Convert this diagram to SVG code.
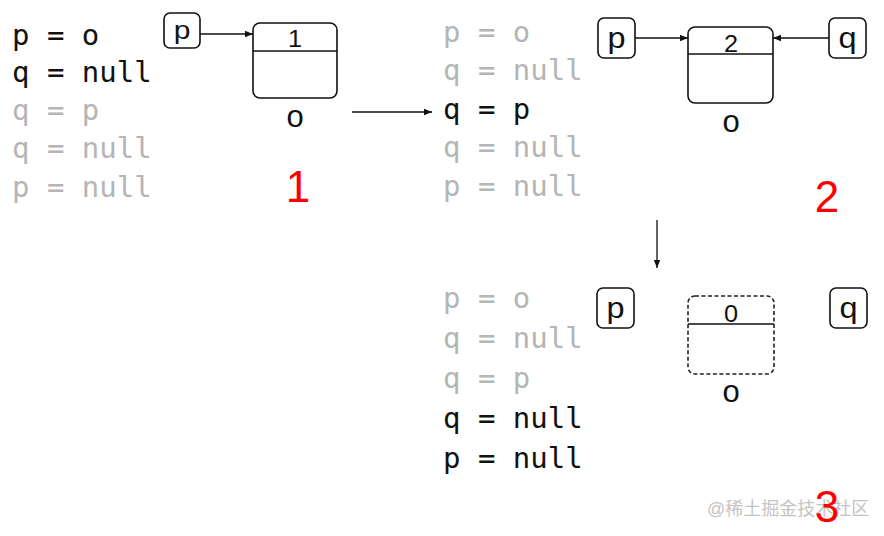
<svg xmlns="http://www.w3.org/2000/svg" width="884" height="536" viewBox="0 0 884 536">
<defs>
<marker id="ah" viewBox="0 0 10 10" refX="10" refY="5" markerWidth="8" markerHeight="8" markerUnits="userSpaceOnUse" orient="auto">
<path d="M0,1 L10,5 L0,9 Z" fill="#111"/>
</marker>
<style>
.code{font-family:"DejaVu Sans Mono","Liberation Mono",monospace;font-size:29px;}
.on{fill:#111;}
.off{fill:#b5b5b5;}
.box{fill:#fff;stroke:#111;stroke-width:1.6;}
.dash{fill:#fff;stroke:#222;stroke-width:1.6;stroke-dasharray:4 2.5;}
.div{stroke:#111;stroke-width:1.6;}
.lbl{font-family:"Liberation Sans",Arial,sans-serif;font-size:29px;fill:#111;text-anchor:middle;}
.lbl1{font-family:"Liberation Sans",Arial,sans-serif;font-size:25px;fill:#111;text-anchor:middle;}
.val{font-family:"Liberation Sans",Arial,sans-serif;font-size:23px;fill:#111;text-anchor:middle;}
.olbl{font-family:"Liberation Sans",Arial,sans-serif;font-size:31px;fill:#111;text-anchor:middle;}
.num{font-family:"Liberation Sans",Arial,sans-serif;font-size:44px;fill:#f00;text-anchor:middle;}
.conn{stroke:#111;stroke-width:1.3;fill:none;marker-end:url(#ah);}
</style>
</defs>
<rect width="884" height="536" fill="#fff"/>

<!-- Panel 1 -->
<g id="code1" class="code">
<text x="12" y="45" class="on">p = o</text>
<text x="12" y="82" class="on">q = null</text>
<text x="12" y="120" class="off">q = p</text>
<text x="12" y="158" class="off">q = null</text>
<text x="12" y="197" class="off">p = null</text>
</g>
<g id="p1">
<rect x="164" y="13" width="36" height="35" rx="6" class="box"/>
<text transform="translate(182 39) scale(1.2 1)" class="lbl1">p</text>
</g>
<g id="obj1">
<rect x="253" y="23" width="84" height="75" rx="7" class="box"/>
<line x1="253" y1="51" x2="337" y2="51" class="div"/>
<text transform="translate(295 47) scale(1.1 1)" class="val">1</text>
<text x="295" y="127" class="olbl">o</text>
</g>
<text id="n1" x="298" y="202" class="num">1</text>

<!-- Panel 2 -->
<g id="code2" class="code">
<text x="443" y="42" class="off">p = o</text>
<text x="443" y="80" class="off">q = null</text>
<text x="443" y="119" class="on">q = p</text>
<text x="443" y="157" class="off">q = null</text>
<text x="443" y="196" class="off">p = null</text>
</g>
<g id="p2">
<rect x="598" y="18" width="37" height="40" rx="6" class="box"/>
<text transform="translate(616.5 48) scale(1.12 1)" class="lbl">p</text>
</g>
<g id="obj2">
<rect x="688" y="27" width="85" height="76" rx="7" class="box"/>
<line x1="688" y1="54" x2="773" y2="54" class="div"/>
<text transform="translate(731 52) scale(1.1 1)" class="val">2</text>
<text x="731" y="132" class="olbl">o</text>
</g>
<g id="q2">
<rect x="829" y="18" width="37" height="40" rx="6" class="box"/>
<text transform="translate(847.5 48) scale(1.12 1)" class="lbl">q</text>
</g>
<text id="n2" x="827" y="212" class="num">2</text>

<!-- Panel 3 -->
<g id="code3" class="code">
<text x="443" y="308" class="off">p = o</text>
<text x="443" y="348" class="off">q = null</text>
<text x="443" y="388" class="off">q = p</text>
<text x="443" y="428" class="on">q = null</text>
<text x="443" y="468" class="on">p = null</text>
</g>
<g id="p3">
<rect x="597" y="288" width="37" height="40" rx="6" class="box"/>
<text transform="translate(615.5 318) scale(1.12 1)" class="lbl">p</text>
</g>
<g id="obj3">
<rect x="688" y="296" width="86" height="78" rx="7" class="dash"/>
<line x1="688" y1="324" x2="774" y2="324" class="div"/>
<text transform="translate(731 321.5) scale(1.1 1)" class="val">0</text>
<text x="731" y="402" class="olbl">o</text>
</g>
<g id="q3">
<rect x="830" y="288" width="37" height="40" rx="6" class="box"/>
<text transform="translate(848.5 318) scale(1.12 1)" class="lbl">q</text>
</g>
<text id="wm" x="707" y="515" font-family="Liberation Sans, Noto Sans CJK SC, sans-serif" font-size="18" fill="#c4c4c4">@稀土掘金技术社区</text>
<text id="n3" x="827" y="522" class="num">3</text>

<!-- Connectors -->
<g id="connectors">
<line x1="200" y1="34" x2="253" y2="34" class="conn"/>
<line x1="352" y1="112" x2="432" y2="112" class="conn"/>
<line x1="635" y1="38" x2="688" y2="38" class="conn"/>
<line x1="829" y1="38" x2="773" y2="38" class="conn"/>
<line x1="657" y1="220" x2="657" y2="268" class="conn"/>
</g>
</svg>
